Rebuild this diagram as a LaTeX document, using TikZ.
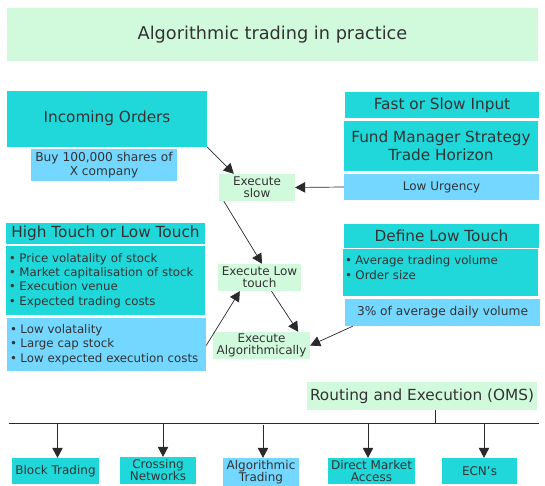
\documentclass[tikz,border=0pt]{standalone}
\usepackage{fontspec}
\setmainfont{DejaVu Sans}
\usetikzlibrary{arrows.meta}
\definecolor{cy}{HTML}{20D8DA}
\definecolor{lb}{HTML}{73D7FF}
\definecolor{lg}{HTML}{D1FADD}
\definecolor{tx}{HTML}{333333}
\definecolor{ln}{HTML}{2A2A2A}
\newcommand\blt{\makebox[10.5pt][l]{•}}
\begin{document}
\begin{tikzpicture}[x=1pt,y=-1pt,
  box/.style={draw=none, inner sep=0pt, text=tx, align=center},
  big/.style={font=\fontsize{15.3}{17.7}\selectfont},
  mid/.style={font=\fontsize{12.2}{13.7}\selectfont},
  sml/.style={font=\fontsize{12}{11.8}\selectfont},
  bot/.style={font=\fontsize{12}{12}\selectfont},
  bl/.style={font=\fontsize{11.8}{14.3}\selectfont, align=left, inner xsep=3pt},
  arr/.style={draw=ln, line width=0.7pt, -{Triangle[length=10pt,width=10.5pt]}},
  ln/.style={draw=ln, line width=0.8pt}]
\useasboundingbox (0,0) rectangle (545,486);
\fill[white] (0,0) rectangle (545,486);
% title
\node[box, fill=lg, minimum width=531pt, minimum height=53pt, font=\fontsize{17.7}{20}\selectfont] (title) at (272.5,34.5) {Algorithmic trading in practice};
% left top
\node[box, big, fill=cy, minimum width=200pt, minimum height=56pt] (inc) at (107,119) {\raisebox{4pt}{Incoming Orders}};
\node[box, mid, fill=lb, minimum width=146pt, minimum height=32pt] (buy) at (104,165) {Buy 100,000 shares of\\X company};
% right top
\node[box, big, fill=cy, minimum width=194pt, minimum height=26pt] (fast) at (442,105) {Fast or Slow Input};
\node[box, big, fill=cy, minimum width=194pt, minimum height=50pt] (fund) at (441,146) {Fund Manager Strategy\\Trade Horizon};
\node[box, sml, fill=lb, minimum width=195pt, minimum height=26pt] (urg) at (441.5,187) {Low Urgency};
% middle
\node[box, sml, fill=lg, minimum width=76pt, minimum height=27pt] (slow) at (257,187.5) {Execute\\slow};
\node[box, sml, fill=lg, minimum width=83pt, minimum height=27pt] (lt) at (259.5,277.5) {Execute Low\\touch};
\node[box, sml, fill=lg, minimum width=97pt, minimum height=27pt] (alg) at (261.5,345.5) {Execute\\Algorithmically};
% left middle
\node[box, big, fill=cy, minimum width=199pt, minimum height=21pt] (ht) at (105.5,233.5) {High Touch or Low Touch};
\node[box, bl, fill=cy, text width=193pt, minimum height=69pt] (hb) at (105.5,280.5) {\blt Price volatality of stock\\\blt Market capitalisation of stock\\\blt Execution venue\\\blt Expected trading costs};
\node[box, bl, fill=lb, text width=193pt, minimum height=53pt] (lv) at (106.5,344.5) {\blt Low volatality\\\blt Large cap stock\\\blt Low expected execution costs};
% right middle
\node[box, big, fill=cy, minimum width=195pt, minimum height=24pt] (dl) at (441.5,236) {Define Low Touch};
\node[box, bl, fill=cy, inner xsep=2pt, text width=191pt, minimum height=47pt, font=\fontsize{11.8}{15}\selectfont] (db) at (440.5,272.5) {\blt Average trading volume\\\blt Order size\\[-6pt]\mbox{}};
\node[box, mid, fill=lb, minimum width=195pt, minimum height=27pt] (pct) at (442.5,312.5) {3\% of average daily volume};
% bottom
\node[box, big, fill=lg, minimum width=230pt, minimum height=28pt] (oms) at (422,396) {Routing and Execution (OMS)};
\coordinate (hl) at (9,423);
\coordinate (hr) at (539,423);
\node[box, bot, fill=cy, minimum width=87pt, minimum height=26pt] (b1) at (55.5,471) {Block Trading};
\node[box, bot, fill=cy, minimum width=76pt, minimum height=27pt] (b2) at (158,470.5) {Crossing\\Networks};
\node[box, bot, fill=lb, minimum width=76pt, minimum height=28pt] (b3) at (261,472) {Algorithmic\\Trading};
\node[box, bot, fill=cy, minimum width=87pt, minimum height=26pt] (b4) at (371.5,471) {Direct Market\\Access};
\node[box, bot, fill=cy, minimum width=75pt, minimum height=26pt] (b5) at (479.5,471) {ECN’s};
% connectors
\draw[arr] (inc.south east) -- ([xshift=15pt]slow.north west);
\draw[arr] (urg.west) -- (slow.east);
\draw[arr] ([xshift=5pt]slow.south west) -- ([xshift=2.5pt]lt.north);
\draw[arr] ([yshift=-1pt]lv.east) -- ([xshift=22pt]lt.south west);
\draw[arr] ([xshift=12pt]lt.south) -- ([xshift=-12pt]alg.north east);
\draw[arr] ([xshift=8pt]pct.south west) -- (alg.east);
\draw[ln] (hl) -- (hr);
\draw[ln] ([xshift=13pt]oms.south) -- ([xshift=13pt]oms.south |- hl);
\draw[arr] ([xshift=2pt]b1.north |- hl) -- ([xshift=2pt]b1.north);
\draw[arr] ([xshift=5pt]b2.north |- hl) -- ([xshift=5pt]b2.north);
\draw[arr] ([xshift=2pt,yshift=-2pt]b3.north |- hl) -- ([xshift=2pt]b3.north);
\draw[arr] ([xshift=-3.5pt]b4.north |- hl) -- ([xshift=-3.5pt]b4.north);
\draw[arr] ([xshift=4.5pt]b5.north |- hl) -- ([xshift=4.5pt]b5.north);
\end{tikzpicture}
\end{document}
